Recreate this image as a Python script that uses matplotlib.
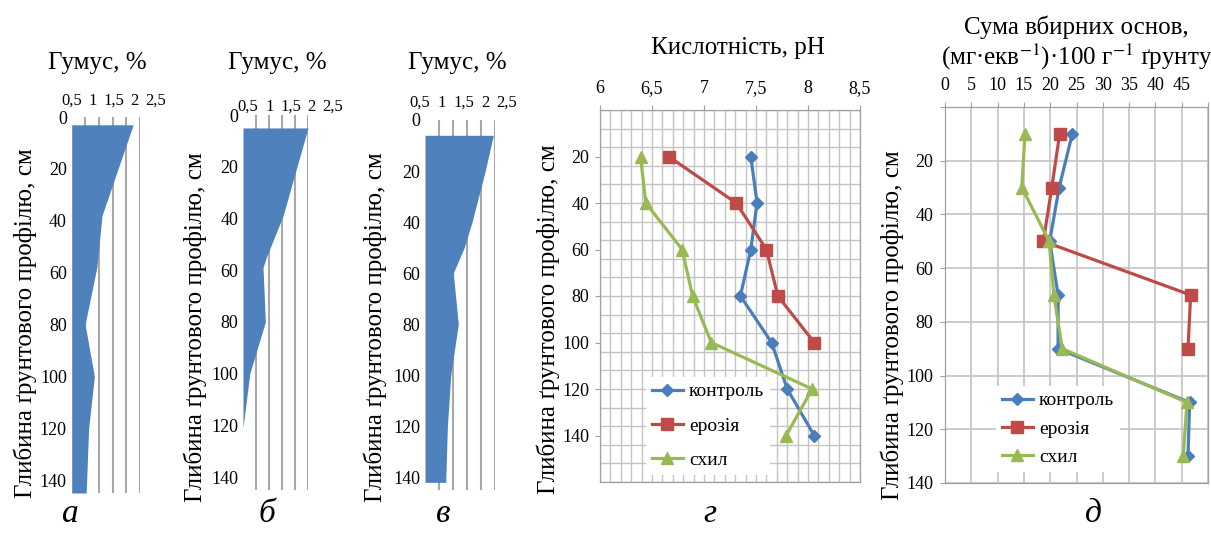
import matplotlib
matplotlib.use("Agg")
import matplotlib.pyplot as plt
from matplotlib.ticker import MultipleLocator

plt.rcParams['font.family'] = ['Liberation Serif', 'DejaVu Serif']
plt.rcParams['mathtext.fontset'] = 'stix'

W, H = 1211, 535

# --- humus profiles (a, б, в): depth, cm / humus, %
humus_a_depth = [3, 38, 58, 80, 100, 120, 145]
humus_a = [2.25, 1.11, 0.92, 0.49, 0.83, 0.62, 0.53]
humus_b_depth = [5, 39, 55, 59, 80, 100, 121]
humus_b = [2.5, 1.54, 0.90, 0.77, 0.86, 0.26, 0.0]
humus_v_depth = [6, 20, 40, 50, 60, 80, 100, 120, 142]
humus_v = [2.44, 2.15, 1.68, 1.40, 1.01, 1.19, 0.92, 0.80, 0.74]
humus_ticks = [0.5, 1.0, 1.5, 2.0, 2.5]
humus_labels = ['0,5', '1', '1,5', '2', '2,5']
depth_ticks = [0, 20, 40, 60, 80, 100, 120, 140]

# --- pH (г)
ph_depth = [20, 40, 60, 80, 100, 120, 140]
ph_control = [7.45, 7.51, 7.45, 7.35, 7.65, 7.80, 8.06]
ph_erosion = [6.66, 7.31, 7.60, 7.71, 8.06]
ph_slope = [6.39, 6.44, 6.79, 6.89, 7.07, 8.04, 7.79]
ph_ticks = [6, 6.5, 7, 7.5, 8, 8.5]
ph_labels = ['6', '6,5', '7', '7,5', '8', '8,5']

# --- sum of exchangeable bases (д)
bases_depth = [10, 30, 50, 70, 90, 110, 130]
bases_control = [24.2, 21.7, 19.9, 21.5, 21.5, 46.5, 46.2]
bases_erosion = [21.8, 20.3, 18.7, 46.7, 46.2]
bases_slope = [15.2, 14.6, 19.8, 20.7, 22.3, 46.0, 45.3]
bases_ticks = [0, 5, 10, 15, 20, 25, 30, 35, 40, 45, 50]
bases_labels = ['0', '5', '10', '15', '20', '25', '30', '35', '40', '45', '']

series_names = ['контроль', 'ерозія', 'схил']
BLUE, RED, GREEN = '#4A7EBB', '#BE4B48', '#98B954'
FILL = '#4F81BD'
GRID = '#C4C4C4'
YLABEL = 'Глибина ґрунтового профілю, см'

fig = plt.figure(figsize=(W / 100, H / 100), dpi=100)


def px_rect(left, top, right, bottom):
    return [left / W, 1 - bottom / H, (right - left) / W, (bottom - top) / H]


def put_ylabel(ax, rect, xc, yc):
    ax.set_ylabel(YLABEL, fontsize=18, va='center')
    l, t, r, b = rect
    ax.yaxis.set_label_coords((xc - l) / (r - l), (b - yc) / (b - t))


def humus_panel(rect, strip, depth, values, title_xy, ylab_xy):
    ax = fig.add_axes(px_rect(*rect))
    ax.fill_betweenx(depth, 0, values, color=FILL, lw=0)
    ax.set_xlim(0, 2.5)
    ax.set_ylim(145, 0)
    ax.set_xticks(humus_ticks)
    ax.tick_params(axis='x', length=0, labelbottom=False, labeltop=False)
    ax.grid(axis='x', color='#A8A8A8', lw=1.5)
    ax.set_axisbelow(True)
    ax.set_yticks(depth_ticks)
    ax.tick_params(axis='y', length=0, pad=3.5, labelsize=13)
    for s in ax.spines.values():
        s.set_visible(False)
    put_ylabel(ax, rect, *ylab_xy)
    # the x labels of these panels are spread wider than the grid
    lab = fig.add_axes(px_rect(strip[0], strip[2] - 1, strip[1], strip[2]),
                       frameon=False)
    lab.set_xlim(0.5, 2.5)
    lab.set_xticks(humus_ticks, humus_labels)
    lab.set_yticks([])
    lab.tick_params(axis='x', top=True, labeltop=True, bottom=False,
                    labelbottom=False, length=0, pad=0, labelsize=12)
    fig.text(title_xy[0] / W, 1 - title_xy[1] / H, 'Гумус, %',
             fontsize=18, ha='center', va='center')
    return ax


humus_panel((71.7, 117, 140, 493), (71.7, 155.7, 110), humus_a_depth, humus_a,
            (97, 63), (25, 323))
humus_panel((243, 115, 308, 490), (248, 333, 116), humus_b_depth, humus_b,
            (277, 63), (195, 327))
humus_panel((425, 120, 495, 490), (420, 507, 112), humus_v_depth, humus_v,
            (457, 63), (375, 327))


def line_panel(ax, depth_sets, value_sets):
    styles = [(BLUE, 'D', 6.5), (RED, 's', 8.5), (GREEN, '^', 8.5)]
    for (c, m, ms), d, v, name in zip(styles, depth_sets, value_sets, series_names):
        ax.plot(v, d, color=c, marker=m, ms=ms, lw=2.3, label=name, zorder=3)
    for s in ax.spines.values():
        s.set_color('#A0A0A0')
        s.set_linewidth(0.9)
    ax.xaxis.tick_top()
    ax.tick_params(which='major', length=3.5, color='#A0A0A0', labelsize=13)
    ax.tick_params(which='minor', length=0)
    ax.xaxis.remove_overlapping_locs = False
    ax.yaxis.remove_overlapping_locs = False


def legend_at(ax, x, y, spacing):
    ax.legend(loc='upper left', bbox_to_anchor=(x / W, 1 - y / H),
              bbox_transform=fig.transFigure, borderaxespad=0, fontsize=14,
              frameon=True, facecolor='white', edgecolor='none', framealpha=1,
              fancybox=False, handlelength=1.6, handletextpad=0.3,
              labelspacing=spacing, borderpad=0.3)


# --- panel г
rect_g = (600, 110, 860, 482)
ax_g = fig.add_axes(px_rect(*rect_g))
line_panel(ax_g, [ph_depth, ph_depth[:5], ph_depth],
           [ph_control, ph_erosion, ph_slope])
ax_g.set_xlim(6, 8.5)
ax_g.set_ylim(160, 0)
ax_g.set_xticks(ph_ticks, ph_labels)
ax_g.set_yticks(depth_ticks[1:])
ax_g.xaxis.set_minor_locator(MultipleLocator(0.1))
ax_g.yaxis.set_minor_locator(MultipleLocator(8))
ax_g.grid(which='minor', color=GRID, lw=1)
ax_g.tick_params(axis='x', pad=6)
ax_g.tick_params(axis='y', pad=4)
put_ylabel(ax_g, rect_g, 548, 319)
fig.text(738 / W, 1 - 48 / H, 'Кислотність, pH', fontsize=18,
         ha='center', va='center')
legend_at(ax_g, 646, 377, 0.85)

# --- panel д
rect_d = (945, 107, 1208, 483)
ax_d = fig.add_axes(px_rect(*rect_d))
line_panel(ax_d, [bases_depth, bases_depth[:5], bases_depth],
           [bases_control, bases_erosion, bases_slope])
ax_d.set_xlim(0, 50)
ax_d.set_ylim(140, 0)
ax_d.set_xticks(bases_ticks, bases_labels)
ax_d.set_yticks(depth_ticks)
ax_d.set_yticklabels([''] + [str(v) for v in depth_ticks[1:]])
ax_d.grid(which='major', color=GRID, lw=1.2)
ax_d.tick_params(axis='x', pad=6)
ax_d.tick_params(axis='y', pad=5)
put_ylabel(ax_d, rect_d, 892, 325)
fig.text(1076 / W, 1 - 27 / H, 'Сума вбирних основ,', fontsize=18,
         ha='center', va='center')
fig.text(1077 / W, 1 - 57 / H, '(мг·екв$^{-1}$)·100 г$^{-1}$ ґрунту',
         fontsize=18, ha='center', va='center')
legend_at(ax_d, 996, 386, 0.55)

# panel letters
for letter, x in zip(['а', 'б', 'в', 'г', 'д'], [70, 267, 443, 710, 1093]):
    fig.text(x / W, 1 - 514 / H, letter, fontsize=24, style='italic',
             ha='center', va='center')

fig.savefig('out.png', dpi=100)
